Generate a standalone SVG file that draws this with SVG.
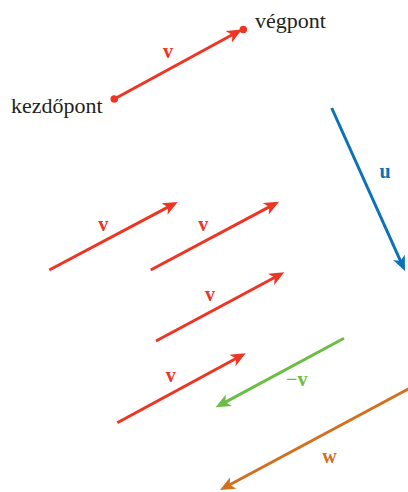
<svg xmlns="http://www.w3.org/2000/svg" width="408" height="492" viewBox="0 0 408 492">
<style>
.red{stroke:#ee3524}
.grn{stroke:#6cbd45}
.blu{stroke:#0b72b9}
.org{stroke:#d2701f}
line{stroke-width:3;fill:none}
.lbl{font-family:"Liberation Serif","Times New Roman",serif;font-weight:bold;font-size:20px;text-anchor:middle}
.txt{font-family:"Liberation Serif","Times New Roman",serif;font-size:22px;fill:#231f20}
</style>
<defs>
<marker id="hr" viewBox="0 -7 15 14" refX="5" refY="0" markerWidth="15" markerHeight="14" markerUnits="userSpaceOnUse" orient="auto"><path d="M15,0 L0,-6.5 L4,0 L0,6.5 Z" fill="#ee3524"/></marker>
<marker id="hg" viewBox="0 -7 15 14" refX="5" refY="0" markerWidth="15" markerHeight="14" markerUnits="userSpaceOnUse" orient="auto"><path d="M15,0 L0,-6.5 L4,0 L0,6.5 Z" fill="#6cbd45"/></marker>
<marker id="hb" viewBox="0 -7 15 14" refX="5" refY="0" markerWidth="15" markerHeight="14" markerUnits="userSpaceOnUse" orient="auto"><path d="M15,0 L0,-6.5 L4,0 L0,6.5 Z" fill="#0b72b9"/></marker>
<marker id="ho" viewBox="0 -7 15 14" refX="5" refY="0" markerWidth="15" markerHeight="14" markerUnits="userSpaceOnUse" orient="auto"><path d="M15,0 L0,-6.5 L4,0 L0,6.5 Z" fill="#d2701f"/></marker>
</defs>
<g id="connectors">
<line class="red" x1="114.3" y1="99" x2="233.2" y2="34.3" marker-end="url(#hr)"/>
<line class="red" x1="49.3" y1="270" x2="168.9" y2="206.7" marker-end="url(#hr)"/>
<line class="red" x1="150.7" y1="270" x2="270.2" y2="206.4" marker-end="url(#hr)"/>
<line class="red" x1="156" y1="341" x2="275.5" y2="277" marker-end="url(#hr)"/>
<line class="red" x1="117.3" y1="422.7" x2="236.9" y2="358" marker-end="url(#hr)"/>
<line class="grn" x1="344" y1="338.3" x2="224.5" y2="402.6" marker-end="url(#hg)"/>
<line class="org" x1="412" y1="387" x2="228.8" y2="485.3" marker-end="url(#ho)"/>
<line class="blu" x1="331.7" y1="108" x2="400.9" y2="261.9" marker-end="url(#hb)"/>
</g>
<g id="start-point">
<circle cx="114.3" cy="99" r="3.8" fill="#ee3524"/>
<text class="txt" x="11" y="113">kezdőpont</text>
</g>
<g id="end-point">
<circle cx="243.3" cy="29.5" r="3.8" fill="#ee3524"/>
<text class="txt" x="255" y="28">végpont</text>
</g>
<g id="labels">
<text class="lbl" x="168" y="58" fill="#ee3524">v</text>
<text class="lbl" x="103.3" y="231" fill="#ee3524">v</text>
<text class="lbl" x="203.3" y="231" fill="#ee3524">v</text>
<text class="lbl" x="210" y="301" fill="#ee3524">v</text>
<text class="lbl" x="170.7" y="382" fill="#ee3524">v</text>
<text class="lbl" x="296.7" y="386" fill="#6cbd45">−v</text>
<text class="lbl" x="329.5" y="463" fill="#d2701f">w</text>
<text class="lbl" x="385" y="177.5" fill="#0b72b9">u</text>
</g>
</svg>
